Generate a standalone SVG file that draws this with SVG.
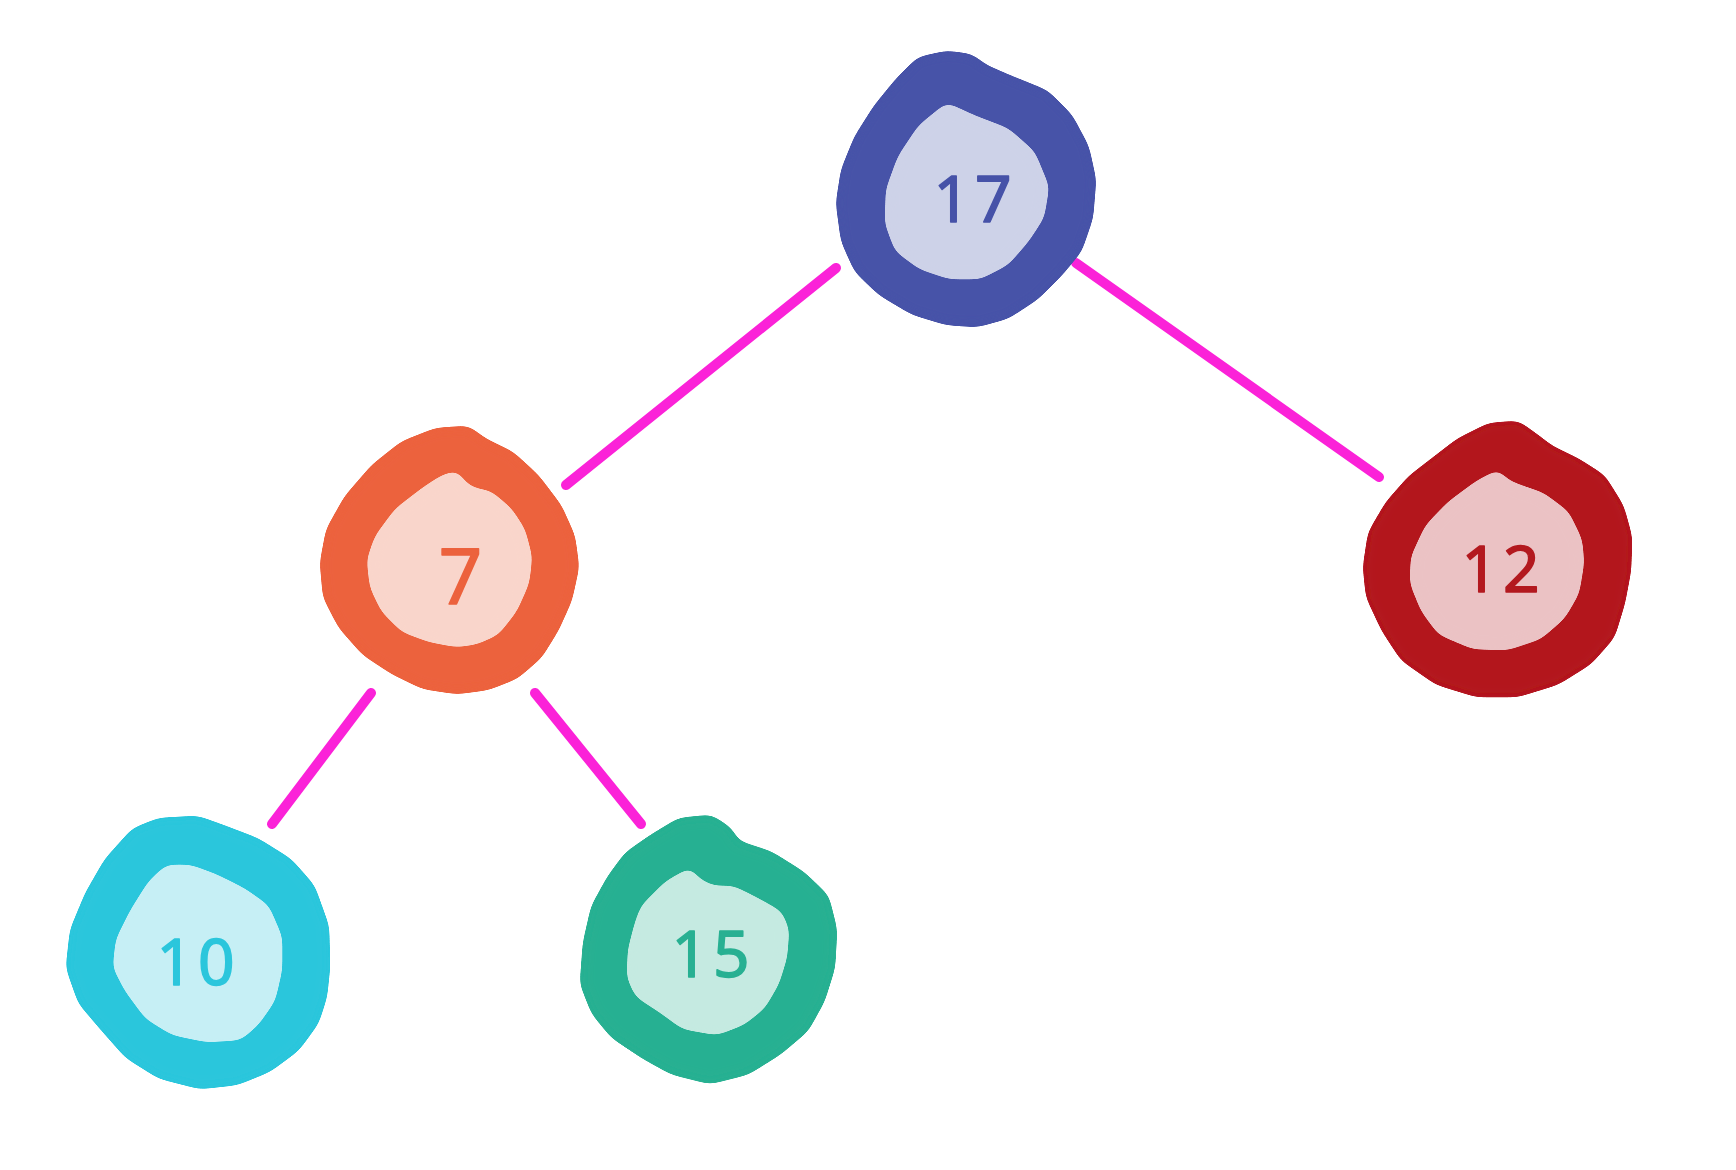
<svg xmlns="http://www.w3.org/2000/svg" width="1736" height="1170" viewBox="0 0 1736 1170">
<defs>
<filter id="smooth" x="-15%" y="-15%" width="130%" height="130%">
<feGaussianBlur stdDeviation="6"/>
<feColorMatrix type="matrix" values="1 0 0 0 0  0 1 0 0 0  0 0 1 0 0  0 0 0 22 -10"/>
</filter>
</defs>
<style>
.edge{stroke:#fb22d8;stroke-width:10;stroke-linecap:round;fill:none}
.ring{stroke-width:10;stroke-linejoin:round;filter:url(#smooth)}
.core{stroke-width:4;stroke-linejoin:round;filter:url(#smooth)}
.lbl{font-family:'Noto Sans','Open Sans',sans-serif;font-size:64px;text-anchor:middle;letter-spacing:5px;stroke-width:1.5;stroke-linejoin:round}
.blue .ring{fill:#4652a8;stroke:#4652a8}.blue .core{fill:#cdd2e8;stroke:#cdd2e8}.blue text{fill:#4652a8;stroke:#4652a8}
.orange .ring{fill:#ec623d;stroke:#ec623d}.orange .core{fill:#f9d5cb;stroke:#f9d5cb}.orange text{fill:#ec623d;stroke:#ec623d}
.red .ring{fill:#b3191f;stroke:#b3191f}.red .core{fill:#ebc2c4;stroke:#ebc2c4}.red text{fill:#b3191f;stroke:#b3191f}
.cyan .ring{fill:#2bc6dc;stroke:#2bc6dc}.cyan .core{fill:#c6eff5;stroke:#c6eff5}.cyan text{fill:#2bc6dc;stroke:#2bc6dc}
.green .ring{fill:#28b092;stroke:#28b092}.green .core{fill:#c5eae1;stroke:#c5eae1}.green text{fill:#28b092;stroke:#28b092}
</style>
<rect width="1736" height="1170" fill="#ffffff"/>
<g id="connectors">
<line class="edge" x1="566" y1="485" x2="836" y2="268"/>
<line class="edge" x1="1076" y1="263" x2="1379" y2="477"/>
<line class="edge" x1="371" y1="693" x2="272" y2="824"/>
<line class="edge" x1="535" y1="693" x2="641" y2="824"/>
</g>
<g id="node-17" class="blue">
<polygon class="ring" points="900,82 920,62 947,56 970,59 983,69 1013,82 1045,95 1068,118 1084,148 1091,180 1088,217 1077,249 1058,272 1035,295 1006,314 977,322 947,320 914,310 882,291 859,269 846,240 841,203 846,171 859,139 878,109"/>
<polygon class="core" points="947,105 973,117 1007,130 1033,153 1047,187 1042,217 1027,240 1007,263 980,277 950,277 920,267 897,250 887,223 888,190 900,157 920,127"/>
<text class="lbl" x="975" y="222">17</text>
</g>
<g id="node-7" class="orange">
<polygon class="ring" points="437,433 467,431 483,443 510,456 535,479 557,508 570,537 574,567 567,599 554,628 538,654 515,674 487,685 457,689 424,684 395,670 366,651 343,625 328,596 325,563 331,531 349,499 375,469 404,446"/>
<polygon class="core" points="457,473 462,482 473,490 490,493 510,510 523,530 530,557 527,583 515,610 497,633 477,642 457,645 430,640 403,630 383,610 372,587 369,560 377,537 397,510 423,490 443,477"/>
<text class="lbl" x="463" y="604" style="font-size:76px">7</text>
</g>
<g id="node-12" class="red">
<polygon class="ring" points="1460,443 1490,428 1517,426 1535,439 1549,450 1576,463 1601,479 1619,508 1627,537 1626,570 1620,602 1610,635 1588,660 1556,680 1517,692 1477,692 1438,680 1405,657 1386,628 1371,596 1368,567 1373,534 1390,505 1412,480 1438,460"/>
<polygon class="core" points="1498,472 1507,482 1523,488 1543,495 1567,513 1580,540 1582,563 1577,593 1563,617 1540,637 1507,648 1473,647 1440,633 1423,610 1412,583 1413,557 1427,527 1450,503 1477,483"/>
<text class="lbl" x="1503" y="592">12</text>
</g>
<g id="node-10" class="cyan">
<polygon class="ring" points="135,833 160,823 197,821 222,830 256,843 288,863 310,888 324,927 325,967 322,996 314,1021 295,1047 268,1067 236,1080 200,1084 161,1074 129,1054 106,1028 83,1001 71,967 75,931 90,895 109,862"/>
<polygon class="core" points="167,867 190,867 217,877 243,890 267,907 280,937 280,970 273,1000 257,1023 240,1038 207,1040 173,1033 147,1017 127,990 115,967 118,940 133,910 150,883"/>
<text class="lbl" x="198" y="985">10</text>
</g>
<g id="node-15" class="green">
<polygon class="ring" points="652,840 680,823 710,820 728,832 735,845 769,856 801,876 824,898 832,930 830,967 820,999 804,1028 778,1050 746,1070 710,1079 674,1070 645,1054 615,1034 596,1011 585,983 588,943 596,908 612,879 629,856"/>
<polygon class="core" points="690,870 697,880 713,888 733,888 757,900 780,913 787,930 785,957 777,983 763,1007 743,1023 717,1033 683,1027 660,1010 637,995 629,977 630,950 637,923 643,907 667,883"/>
<text class="lbl" x="713" y="977">15</text>
</g>
</svg>
